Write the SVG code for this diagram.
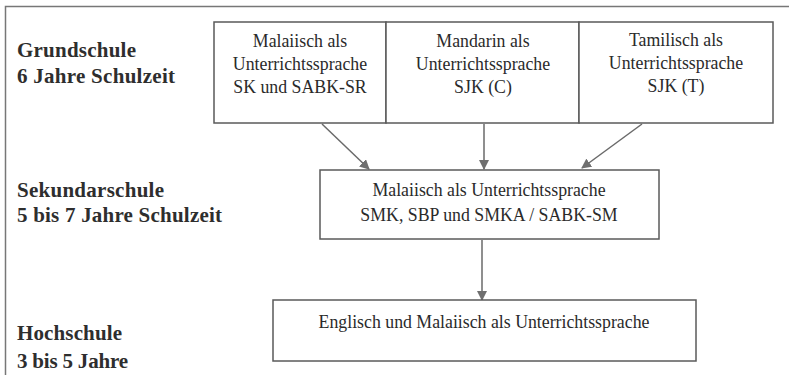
<svg xmlns="http://www.w3.org/2000/svg" width="792" height="375" viewBox="0 0 792 375">
<style>
.frame{fill:none;stroke:#777;stroke-width:1.5}
.box{fill:#fff;stroke:#5a5a5a;stroke-width:1.5}
.lbl{font-weight:bold;font-size:21px;fill:#2e2e2e}
.txt{font-size:17.8px;fill:#2a2a2a;text-anchor:middle}
.con{fill:none;stroke:#6a6a6a;stroke-width:1.5}
</style>
<defs>
<marker id="ah" markerWidth="10" markerHeight="10" refX="9" refY="5" orient="auto" markerUnits="userSpaceOnUse">
<path d="M0,0 L10,5 L0,10 Z" fill="#6f6f6f"/>
</marker>
</defs>
<rect width="792" height="375" fill="#fff"/>
<path class="frame" d="M5.5,375 V6.5 H789"/>
<g id="labels" font-family="Liberation Serif, DejaVu Serif, serif">
<text class="lbl" x="17" y="57" textLength="119" lengthAdjust="spacing">Grundschule</text>
<text class="lbl" x="17" y="83" textLength="158" lengthAdjust="spacing">6 Jahre Schulzeit</text>
<text class="lbl" x="17" y="197" textLength="147" lengthAdjust="spacing">Sekundarschule</text>
<text class="lbl" x="17" y="222" textLength="205" lengthAdjust="spacing">5 bis 7 Jahre Schulzeit</text>
<text class="lbl" x="17" y="340" textLength="105" lengthAdjust="spacing">Hochschule</text>
<text class="lbl" x="17" y="368" textLength="111" lengthAdjust="spacing">3 bis 5 Jahre</text>
</g>
<g id="connectors">
<line class="con" x1="322" y1="124" x2="369" y2="169" marker-end="url(#ah)"/>
<line class="con" x1="484" y1="124" x2="484" y2="169" marker-end="url(#ah)"/>
<line class="con" x1="642" y1="124" x2="582" y2="168" marker-end="url(#ah)"/>
<line class="con" x1="482" y1="240" x2="482" y2="300" marker-end="url(#ah)"/>
</g>
<g id="n1" font-family="Liberation Serif, DejaVu Serif, serif">
<rect class="box" x="214" y="22" width="172" height="101"/>
<text class="txt" x="300" y="47">Malaiisch als</text>
<text class="txt" x="300" y="70">Unterrichtssprache</text>
<text class="txt" x="300" y="93">SK und SABK-SR</text>
</g>
<g id="n2" font-family="Liberation Serif, DejaVu Serif, serif">
<rect class="box" x="386" y="22" width="193" height="101"/>
<text class="txt" x="483" y="47">Mandarin als</text>
<text class="txt" x="483" y="70">Unterrichtssprache</text>
<text class="txt" x="483" y="93">SJK (C)</text>
</g>
<g id="n3" font-family="Liberation Serif, DejaVu Serif, serif">
<rect class="box" x="579" y="22" width="194" height="101"/>
<text class="txt" x="676" y="46">Tamilisch als</text>
<text class="txt" x="676" y="69">Unterrichtssprache</text>
<text class="txt" x="676" y="92">SJK (T)</text>
</g>
<g id="n4" font-family="Liberation Serif, DejaVu Serif, serif">
<rect class="box" x="320" y="170" width="339" height="69"/>
<text class="txt" x="489" y="196">Malaiisch als Unterrichtssprache</text>
<text class="txt" x="489" y="221">SMK, SBP und SMKA / SABK-SM</text>
</g>
<g id="n5" font-family="Liberation Serif, DejaVu Serif, serif">
<rect class="box" x="273" y="300" width="423" height="61"/>
<text class="txt" x="484" y="328">Englisch und Malaiisch als Unterrichtssprache</text>
</g>
</svg>
